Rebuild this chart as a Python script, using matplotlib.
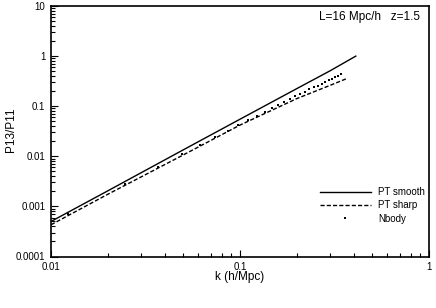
import numpy as np
import matplotlib
matplotlib.use('Agg')
from matplotlib import pyplot as plt
from matplotlib.ticker import LogLocator, NullFormatter, FixedLocator, FixedFormatter

plt.rcParams['font.family'] = ['Liberation Sans', 'DejaVu Sans']

# PT smooth
k_smooth = [0.01, 0.02, 0.05, 0.1, 0.2, 0.3, 0.41]
p_smooth = [5.0e-4, 2.05e-3, 1.34e-2, 0.055, 0.225, 0.51, 1.0]

# PT sharp
k_sharp = [0.01, 0.02, 0.05, 0.1, 0.2, 0.3, 0.367]
p_sharp = [4.3e-4, 1.75e-3, 1.06e-2, 0.042, 0.142, 0.261, 0.356]

# Nbody
k_nbody = [0.01227, 0.02454, 0.03682, 0.04909, 0.06136, 0.07363, 0.0859,
           0.09817, 0.11045, 0.12272, 0.13499, 0.14726, 0.15953, 0.17181,
           0.18408, 0.19635, 0.20862, 0.2209, 0.23317, 0.24544, 0.25771,
           0.26998, 0.28225, 0.29452, 0.3068, 0.31907, 0.33134, 0.34361]
p_nbody = [6.9e-4, 2.85e-3, 6.2e-3, 0.0109, 0.0168, 0.0239, 0.0323,
           0.042, 0.0527, 0.0646, 0.0776, 0.0916, 0.1066, 0.1225,
           0.1396, 0.1574, 0.1758, 0.1954, 0.2158, 0.2371, 0.2588,
           0.2812, 0.3041, 0.3281, 0.3524, 0.3776, 0.4027, 0.4295]

fig = plt.figure(figsize=(4.36, 3.08), dpi=100)
ax = fig.add_axes([51/436, 1-256.5/308, 378/436, 250.5/308])

ax.plot(k_smooth, p_smooth, color='k', linewidth=1.0, label='PT smooth')
ax.plot(k_sharp, p_sharp, color='k', linewidth=1.0, linestyle=(0, (3, 1.5)), label='PT sharp')
ax.plot(k_nbody, p_nbody, linestyle='none', marker='s', markersize=1.9, markeredgewidth=0, color='k', label='Nbody')

ax.set_xscale('log')
ax.set_yscale('log')
ax.set_xlim(0.01, 1)
ax.set_ylim(0.0001, 10)

ax.yaxis.set_major_locator(FixedLocator([0.0001, 0.001, 0.01, 0.1, 1, 10]))
ax.yaxis.set_major_formatter(FixedFormatter(['0.0001', '0.001', '0.01', '0.1', '1', '10']))
ax.yaxis.set_minor_locator(LogLocator(base=10, subs=np.arange(2, 10)))
ax.yaxis.set_minor_formatter(NullFormatter())
ax.xaxis.set_major_locator(FixedLocator([0.01, 0.1, 1]))
ax.xaxis.set_major_formatter(FixedFormatter(['0.01', '0.1', '1']))
ax.xaxis.set_minor_locator(LogLocator(base=10, subs=np.arange(2, 10)))
ax.xaxis.set_minor_formatter(NullFormatter())

ax.tick_params(which='both', direction='in', top=False, right=False, labelsize=7, width=0.8)
ax.tick_params(which='major', length=5, pad=4)
ax.tick_params(which='minor', length=3)
for s in ax.spines.values():
    s.set_linewidth(1.2)

ax.set_xlabel('k (h/Mpc)', fontsize=8.5, va='center')
ax.xaxis.set_label_coords(0.5, -0.083)
ax.set_ylabel('P13/P11', fontsize=8.5, va='center')
ax.yaxis.set_label_coords(-0.106, 0.505)

ax.text(0.975, 0.955, 'L=16 Mpc/h   z=1.5', transform=ax.transAxes,
        ha='right', va='center', fontsize=8.5)

ax.legend(loc='center left', bbox_to_anchor=(0.712, 0.204), frameon=False,
          fontsize=7, handlelength=5.2, handletextpad=0.8, labelspacing=0.35,
          borderpad=0, borderaxespad=0, markerscale=1.0)

fig.savefig('out.png', dpi=100)
